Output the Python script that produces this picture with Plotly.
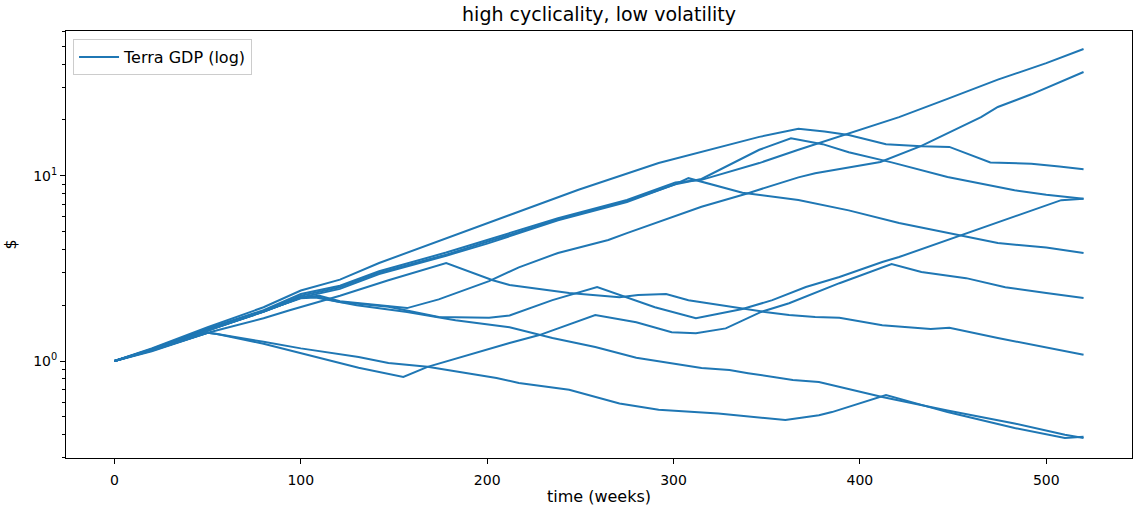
import plotly.graph_objects as go

# ---- data (week, GDP value) ----
line_a_weeks = [0, 20, 50, 80, 100, 121, 142, 178, 200, 238, 275, 301, 315, 346, 367, 392, 421, 447, 474, 500, 520]
line_a_gdp = [1.0, 1.16, 1.5, 1.88, 2.3, 2.55, 3.05, 3.85, 4.5, 5.9, 7.4, 9.2, 9.5, 11.7, 13.8, 16.6, 20.7, 26.0, 33.0, 40.5, 48.3]

line_b_weeks = [0, 20, 50, 80, 100, 110, 121, 140, 157, 174, 201, 217, 238, 265, 275, 315, 340, 367, 376, 411, 433, 465, 474, 492, 520]
line_b_gdp = [1.0, 1.15, 1.46, 1.85, 2.2, 2.25, 2.1, 2.0, 1.93, 2.15, 2.7, 3.2, 3.83, 4.5, 4.9, 6.8, 8.05, 9.8, 10.3, 11.85, 14.5, 20.7, 23.5, 27.5, 36.3]

line_c_weeks = [0, 20, 50, 80, 100, 121, 142, 190, 249, 292, 346, 367, 381, 394, 414, 433, 448, 470, 492, 507, 520]
line_c_gdp = [1.0, 1.17, 1.52, 1.95, 2.4, 2.75, 3.38, 5.1, 8.4, 11.7, 16.2, 17.9, 17.3, 16.6, 14.8, 14.4, 14.3, 11.8, 11.6, 11.2, 10.85]

line_d_weeks = [0, 20, 50, 80, 100, 121, 142, 178, 200, 238, 275, 301, 315, 346, 363, 380, 394, 417, 447, 483, 500, 520]
line_d_gdp = [1.0, 1.15, 1.48, 1.85, 2.25, 2.5, 3.0, 3.75, 4.4, 5.8, 7.3, 9.0, 9.6, 13.8, 15.9, 14.8, 13.4, 11.8, 9.85, 8.35, 7.9, 7.5]

line_f_weeks = [0, 20, 50, 80, 100, 121, 142, 178, 200, 238, 275, 301, 308, 337, 367, 394, 421, 447, 474, 500, 520]
line_f_gdp = [1.0, 1.15, 1.47, 1.84, 2.2, 2.45, 2.95, 3.7, 4.3, 5.75, 7.2, 9.0, 9.7, 8.1, 7.4, 6.5, 5.55, 4.9, 4.33, 4.1, 3.83]

line_h_weeks = [0, 20, 50, 80, 94, 121, 147, 178, 203, 212, 244, 271, 281, 296, 308, 335, 349, 362, 376, 389, 412, 438, 448, 474, 500, 520]
line_h_gdp = [1.0, 1.13, 1.42, 1.7, 1.88, 2.25, 2.73, 3.38, 2.73, 2.57, 2.33, 2.21, 2.27, 2.3, 2.13, 1.93, 1.84, 1.77, 1.73, 1.71, 1.56, 1.49, 1.51, 1.33, 1.18, 1.08]

line_g_weeks = [0, 20, 50, 80, 100, 108, 121, 147, 174, 201, 212, 235, 259, 275, 290, 312, 326, 337, 353, 371, 389, 412, 421, 447, 483, 508, 520]
line_g_gdp = [1.0, 1.15, 1.46, 1.85, 2.2, 2.22, 2.08, 1.96, 1.73, 1.71, 1.76, 2.13, 2.51, 2.2, 1.95, 1.70, 1.81, 1.91, 2.13, 2.51, 2.84, 3.42, 3.64, 4.5, 5.99, 7.38, 7.5]

line_j_weeks = [0, 20, 50, 80, 100, 108, 130, 157, 183, 212, 235, 258, 280, 315, 330, 340, 364, 378, 412, 447, 483, 510, 520]
line_j_gdp = [1.0, 1.15, 1.46, 1.85, 2.18, 2.2, 2.0, 1.84, 1.66, 1.52, 1.33, 1.19, 1.04, 0.917, 0.894, 0.86, 0.79, 0.77, 0.64, 0.54, 0.46, 0.40, 0.384]

line_e_weeks = [0, 20, 50, 55, 80, 100, 131, 155, 168, 212, 228, 258, 280, 299, 312, 328, 347, 362, 389, 417, 433, 457, 478, 500, 520]
line_e_gdp = [1.0, 1.14, 1.42, 1.40, 1.24, 1.10, 0.92, 0.82, 0.93, 1.25, 1.38, 1.77, 1.62, 1.43, 1.41, 1.50, 1.84, 2.05, 2.63, 3.34, 3.02, 2.8, 2.5, 2.33, 2.19]

line_k_weeks = [0, 20, 50, 55, 80, 100, 131, 147, 168, 205, 217, 244, 271, 292, 324, 360, 378, 385, 414, 447, 483, 510, 520]
line_k_gdp = [1.0, 1.14, 1.42, 1.40, 1.27, 1.17, 1.05, 0.975, 0.93, 0.81, 0.76, 0.70, 0.59, 0.545, 0.52, 0.48, 0.51, 0.53, 0.655, 0.53, 0.435, 0.384, 0.39]

series = [
    (line_a_weeks, line_a_gdp), (line_b_weeks, line_b_gdp), (line_c_weeks, line_c_gdp),
    (line_d_weeks, line_d_gdp), (line_f_weeks, line_f_gdp), (line_h_weeks, line_h_gdp),
    (line_g_weeks, line_g_gdp), (line_j_weeks, line_j_gdp), (line_e_weeks, line_e_gdp),
    (line_k_weeks, line_k_gdp),
]

x_ticks = [0, 100, 200, 300, 400, 500]
y_ticks = [1, 10]
y_tick_text = ["10<sup>0</sup>", "10<sup>1</sup>"]
y_minor = [0.3, 0.4, 0.5, 0.6, 0.7, 0.8, 0.9, 2, 3, 4, 5, 6, 7, 8, 9, 20, 30, 40, 50, 60]

FONT = "DejaVu Sans"
BLUE = "#1f77b4"

fig = go.Figure()
for i, (wk, val) in enumerate(series):
    fig.add_trace(go.Scatter(
        x=wk, y=val, mode="lines",
        line=dict(color=BLUE, width=2),
        name="Terra GDP (log)", showlegend=(i == 0),
    ))

fig.update_layout(
    width=1133, height=513,
    margin=dict(l=66, r=1, t=31, b=55),
    paper_bgcolor="white", plot_bgcolor="white",
    font=dict(family=FONT, size=14, color="black"),
    title=dict(text="high cyclicality, low volatility", x=0.5, xref="paper",
               y=1 - 14 / 513, yref="container", yanchor="middle",
               font=dict(size=19, color="black")),
    legend=dict(x=0.0066, y=0.981, xanchor="left", yanchor="top",
                bgcolor="rgba(255,255,255,0.8)", bordercolor="#cccccc", borderwidth=1,
                font=dict(size=16), itemwidth=40),
    showlegend=True,
)
fig.update_xaxes(
    range=[-26, 546], tickvals=x_ticks, ticks="outside", ticklen=5, tickwidth=1,
    tickcolor="black", showline=True, linecolor="black", linewidth=1, mirror=True,
    showgrid=False, zeroline=False, ticklabelstandoff=4,
    title=dict(text="time (weeks)", standoff=4, font=dict(size=16)),
)
fig.update_yaxes(
    type="log", range=[-0.5235, 1.781], tickvals=y_ticks, ticktext=y_tick_text,
    ticks="outside", ticklen=5, tickwidth=1, tickcolor="black",
    showline=True, linecolor="black", linewidth=1, mirror=True,
    showgrid=False, zeroline=False,
    minor=dict(tickvals=y_minor, ticks="outside", ticklen=3, tickwidth=0.7, tickcolor="black", showgrid=False),
    title=dict(text="$", standoff=12, font=dict(size=16)),
)

fig.write_html("out.html")
